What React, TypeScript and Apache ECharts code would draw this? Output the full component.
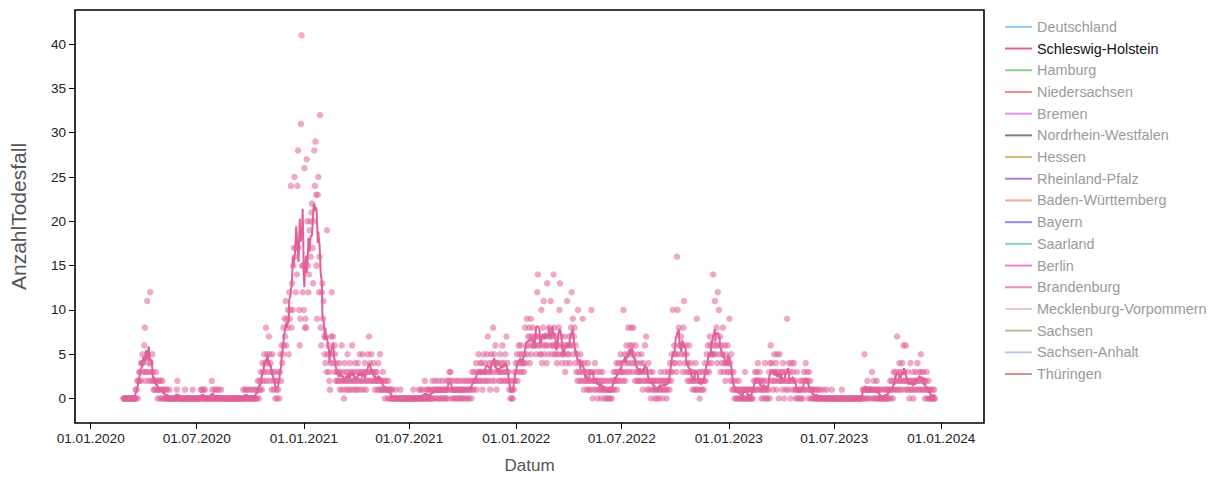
import React, { useEffect, useRef } from "react";
import * as echarts from "echarts";

// Daily reported deaths, Schleswig-Holstein, starting 2020-02-26
const startDate = "2020-02-26";

const deaths2020 = [
  0, 0, 0, 0, // Feb 26-29
  0, 0, 0, 0, 0, 0, 0, 0, 0, 0, 0, 0, 0, 0, 0, 0, 0, 1, 0, 1, 2, 0, 2, 3, 2, 3, 4, 2, 4, 5, 4, // Mar
  3, 6, 8, 3, 2, 3, 11, 5, 4, 3, 2, 12, 4, 3, 2, 5, 3, 1, 2, 1, 2, 3, 1, 2, 0, 1, 2, 1, 0, 2, // Apr
  1, 0, 2, 1, 0, 1, 0, 0, 1, 0, 1, 0, 0, 0, 1, 0, 0, 0, 0, 0, 0, 0, 0, 0, 0, 0, 0, 1, 2, 0, 0, // May
  0, 0, 0, 0, 0, 0, 0, 0, 0, 0, 1, 0, 0, 0, 0, 0, 0, 0, 0, 0, 0, 0, 0, 1, 0, 0, 0, 0, 0, 0, // Jun
  0, 0, 0, 0, 0, 0, 0, 1, 0, 1, 0, 0, 1, 0, 1, 0, 0, 0, 0, 0, 0, 0, 0, 0, 0, 0, 2, 1, 0, 0, 0, // Jul
  1, 0, 0, 1, 0, 0, 0, 1, 0, 0, 0, 1, 0, 0, 0, 0, 0, 0, 0, 0, 0, 0, 0, 0, 0, 0, 0, 0, 0, 0, 0, // Aug
  0, 0, 0, 0, 0, 0, 0, 0, 0, 0, 0, 0, 0, 0, 0, 0, 0, 0, 1, 0, 0, 1, 0, 0, 1, 0, 0, 1, 0, 0, // Sep
  0, 1, 0, 0, 0, 1, 0, 0, 1, 0, 0, 0, 1, 2, 1, 0, 2, 1, 3, 2, 1, 4, 3, 2, 5, 3, 4, 8, 2, 5, 4, // Oct
  3, 7, 5, 2, 4, 3, 1, 5, 3, 2, 1, 3, 0, 2, 1, 0, 2, 1, 3, 0, 3, 5, 2, 6, 4, 5, 8, 6, 9, 7, // Nov
  11, 6, 9, 8, 10, 5, 12, 9, 10, 24, 8, 13, 10, 15, 17, 25, 16, 12, 17, 14, 24, 28, 17, 10, 6, 9, 31, 41, 15, 12, 15, // Dec
];

const deaths2021 = [
  10, 26, 8, 9, 8, 27, 20, 15, 12, 14, 19, 20, 16, 21, 22, 17, 13, 20, 28, 24, 29, 23, 15, 9, 23, 25, 12, 16, 32, 8, 6, // Jan
  12, 13, 9, 11, 7, 5, 4, 7, 3, 19, 5, 6, 3, 2, 1, 4, 7, 12, 5, 7, 4, 3, 6, 5, 2, 4, 3, 2, // Feb
  3, 2, 4, 1, 3, 2, 6, 1, 2, 3, 0, 4, 2, 1, 3, 2, 5, 1, 2, 3, 4, 1, 2, 3, 6, 2, 1, 3, 2, 4, 1, // Mar
  2, 3, 1, 4, 2, 3, 5, 1, 2, 3, 2, 5, 1, 3, 2, 4, 3, 1, 2, 3, 5, 2, 7, 3, 4, 2, 5, 3, 2, 3, // Apr
  4, 2, 1, 3, 2, 3, 2, 1, 4, 2, 1, 5, 2, 1, 2, 1, 3, 1, 2, 0, 1, 2, 1, 1, 0, 2, 1, 0, 1, 0, 1, // May
  0, 1, 0, 0, 0, 0, 0, 1, 0, 0, 0, 0, 0, 0, 0, 1, 0, 0, 0, 0, 0, 0, 0, 0, 0, 0, 0, 0, 0, 0, // Jun
  0, 0, 0, 0, 0, 0, 0, 1, 0, 0, 0, 0, 0, 0, 0, 0, 0, 1, 0, 0, 1, 0, 0, 0, 1, 0, 0, 2, 0, 0, 1, // Jul
  0, 1, 0, 0, 1, 0, 1, 0, 0, 2, 0, 1, 1, 0, 2, 1, 0, 1, 1, 0, 2, 1, 0, 1, 0, 1, 2, 0, 1, 1, 0, // Aug
  1, 0, 2, 1, 0, 1, 2, 3, 2, 3, 1, 0, 1, 2, 0, 1, 1, 0, 2, 1, 0, 1, 2, 0, 1, 1, 0, 2, 1, 0, // Sep
  1, 0, 2, 1, 1, 0, 2, 1, 0, 1, 2, 0, 1, 1, 2, 0, 3, 1, 2, 1, 3, 2, 2, 4, 1, 3, 2, 5, 3, 2, 4, // Oct
  3, 2, 4, 1, 3, 5, 2, 3, 4, 2, 3, 5, 7, 2, 3, 4, 1, 3, 5, 2, 4, 8, 3, 5, 2, 6, 4, 1, 3, 4, // Nov
  4, 2, 3, 5, 3, 2, 4, 6, 3, 2, 4, 3, 5, 2, 7, 3, 4, 2, 3, 1, 2, 0, 1, 0, 1, 0, 2, 1, 3, 2, 4, // Dec
];

const deaths2022 = [
  3, 5, 2, 4, 6, 3, 5, 4, 6, 3, 5, 4, 4, 3, 5, 8, 4, 6, 9, 5, 7, 6, 8, 4, 7, 9, 5, 6, 8, 7, 6, // Jan
  6, 6, 7, 5, 7, 12, 14, 6, 6, 7, 5, 5, 10, 4, 6, 8, 11, 5, 7, 6, 6, 4, 13, 7, 5, 8, 6, 7, // Feb
  11, 7, 5, 6, 6, 14, 8, 5, 7, 6, 5, 4, 6, 5, 8, 10, 13, 6, 7, 5, 4, 5, 6, 5, 7, 3, 6, 4, 11, 5, 6, // Mar
  5, 7, 4, 6, 8, 12, 6, 9, 5, 7, 8, 4, 6, 3, 5, 2, 10, 3, 4, 2, 5, 3, 4, 2, 9, 3, 1, 4, 2, 3, // Apr
  2, 3, 1, 4, 2, 1, 2, 3, 1, 10, 2, 0, 3, 2, 1, 4, 2, 1, 3, 2, 0, 2, 1, 3, 1, 2, 0, 1, 3, 2, 1, // May
  1, 0, 2, 1, 0, 1, 2, 0, 1, 1, 0, 2, 1, 0, 1, 2, 3, 1, 2, 3, 2, 4, 1, 3, 2, 4, 3, 2, 5, 3, // Jun
  4, 3, 2, 10, 3, 5, 2, 4, 6, 3, 5, 8, 4, 3, 6, 5, 8, 4, 6, 3, 8, 5, 4, 2, 6, 3, 4, 2, 5, 3, 2, // Jul
  3, 4, 2, 5, 3, 1, 4, 2, 3, 6, 2, 7, 3, 1, 2, 4, 1, 2, 3, 0, 2, 1, 3, 2, 1, 2, 0, 1, 2, 1, 0, // Aug
  2, 1, 0, 2, 1, 3, 2, 1, 0, 2, 1, 2, 3, 1, 2, 0, 1, 2, 3, 2, 1, 4, 3, 2, 5, 3, 10, 4, 6, 5, // Sep
  4, 5, 3, 16, 10, 5, 8, 6, 4, 6, 7, 5, 6, 3, 8, 11, 5, 4, 6, 3, 5, 2, 4, 3, 6, 2, 3, 4, 2, 3, 1, // Oct
  2, 3, 1, 2, 4, 1, 9, 2, 1, 3, 2, 0, 1, 3, 2, 1, 2, 3, 1, 2, 4, 2, 3, 5, 3, 6, 4, 3, 7, 5, // Nov
  6, 4, 5, 5, 14, 5, 6, 11, 5, 6, 8, 4, 12, 6, 10, 5, 7, 3, 6, 4, 5, 8, 3, 4, 6, 2, 5, 4, 3, 6, 4, // Dec
];

const deaths2023 = [
  3, 9, 4, 2, 5, 3, 1, 2, 3, 1, 0, 1, 2, 0, 1, 0, 1, 2, 0, 1, 0, 0, 1, 0, 1, 0, 0, 1, 3, 0, 1, // Jan
  0, 1, 0, 0, 1, 0, 1, 0, 0, 1, 0, 1, 2, 1, 3, 2, 1, 3, 2, 4, 1, 2, 3, 1, 2, 0, 1, 2, // Feb
  1, 0, 2, 4, 1, 0, 1, 0, 2, 1, 3, 0, 4, 6, 2, 4, 3, 1, 2, 5, 3, 2, 4, 1, 5, 3, 2, 0, 5, 2, 3, // Mar
  2, 3, 1, 4, 2, 0, 3, 2, 1, 3, 9, 2, 1, 4, 2, 3, 0, 2, 4, 1, 3, 2, 4, 1, 2, 0, 1, 3, 0, 1, // Apr
  1, 0, 2, 1, 0, 1, 2, 0, 1, 3, 2, 1, 4, 2, 3, 1, 2, 0, 3, 1, 2, 0, 1, 1, 0, 1, 0, 0, 1, 0, 0, // May
  1, 0, 0, 1, 0, 0, 0, 1, 0, 0, 0, 0, 1, 0, 0, 0, 0, 1, 0, 0, 0, 0, 0, 0, 0, 0, 1, 0, 0, 0, // Jun
  0, 0, 0, 0, 0, 0, 0, 0, 0, 0, 0, 0, 0, 1, 0, 0, 0, 0, 0, 0, 0, 0, 0, 0, 0, 0, 0, 0, 0, 0, 0, // Jul
  0, 0, 0, 0, 0, 0, 0, 0, 0, 0, 0, 0, 0, 0, 0, 0, 0, 0, 1, 0, 1, 5, 0, 1, 1, 0, 2, 1, 0, 1, 1, // Aug
  1, 0, 1, 3, 1, 0, 2, 1, 0, 1, 0, 2, 1, 0, 1, 0, 1, 0, 0, 1, 0, 0, 0, 0, 1, 0, 1, 0, 0, 1, // Sep
  0, 1, 0, 1, 2, 0, 1, 2, 1, 0, 3, 1, 2, 3, 1, 2, 7, 1, 3, 2, 4, 1, 2, 3, 1, 4, 2, 6, 3, 2, 1, // Oct
  6, 2, 1, 3, 2, 1, 0, 2, 4, 1, 2, 1, 3, 0, 2, 1, 2, 3, 1, 2, 4, 2, 1, 3, 2, 1, 5, 3, 1, 2, // Nov
  3, 1, 2, 0, 2, 1, 3, 0, 1, 2, 0, 1, 0, 1, 0, 0, 1, 0, 0, 1, 0, // Dec 1-21
];

const yTicks = [0, 5, 10, 15, 20, 25, 30, 35, 40];
const xTickDates = [
  "2020-01-01", "2020-07-01", "2021-01-01", "2021-07-01", "2022-01-01",
  "2022-07-01", "2023-01-01", "2023-07-01", "2024-01-01",
];
const xDomain = ["2019-12-05", "2024-03-14T07:00:00"];
const yDomain = [-2.76, 43.85];

const legendNames = [
  "Deutschland", "Schleswig-Holstein", "Hamburg", "Niedersachsen", "Bremen",
  "Nordrhein-Westfalen", "Hessen", "Rheinland-Pfalz", "Baden-Württemberg", "Bayern",
  "Saarland", "Berlin", "Brandenburg", "Mecklenburg-Vorpommern", "Sachsen",
  "Sachsen-Anhalt", "Thüringen",
];
const legendColors = [
  "#94c9f0", "#e0609a", "#8fd18f", "#f28b8b", "#e890ea",
  "#808080", "#d9b76e", "#b27cc9", "#f5a88c", "#9b84f2",
  "#7dd3bb", "#f27fdc", "#f48bb8", "#e6c8cf", "#b6c095",
  "#b9cbe8", "#c99188",
];
const activeState = "Schleswig-Holstein";

const DAY = 86400000;
const FONT = "'Liberation Sans', Arial, Helvetica, sans-serif";

function parseUTC(s: string): number {
  return new Date(s.length === 10 ? s + "T00:00:00Z" : s + "Z").getTime();
}

function fmtDate(ts: number): string {
  const d = new Date(ts);
  const dd = String(d.getUTCDate()).padStart(2, "0");
  const mm = String(d.getUTCMonth() + 1).padStart(2, "0");
  return `${dd}.${mm}.${d.getUTCFullYear()}`;
}

export default function App() {
  const ref = useRef<HTMLDivElement>(null);

  useEffect(() => {
    if (!ref.current) return;
    const chart = echarts.init(ref.current, undefined, { renderer: "svg" });

    const values = [...deaths2020, ...deaths2021, ...deaths2022, ...deaths2023];
    const t0 = parseUTC(startDate);
    const points = values.map((v, i) => [t0 + i * DAY, v]);
    // centered 7-day mean
    const rolling = values.map((_, i) => {
      let s = 0;
      let n = 0;
      for (let k = i - 3; k <= i + 3; k++) {
        if (k >= 0 && k < values.length) {
          s += values[k];
          n++;
        }
      }
      return [t0 + i * DAY, s / n];
    });

    const xTicks = xTickDates.map(parseUTC);

    const emptySeries = legendNames
      .map((name, i) => ({ name, color: legendColors[i] }))
      .filter((s) => s.name !== activeState)
      .map((s) => ({
        name: s.name,
        type: "line" as const,
        data: [] as number[][],
        color: s.color,
        showSymbol: false,
      }));

    chart.setOption({
      animation: false,
      textStyle: { fontFamily: FONT },
      grid: {
        left: 75,
        width: 909,
        top: 10,
        height: 416.7,
        show: true,
        borderColor: "#000",
        borderWidth: 1.6,
        backgroundColor: "transparent",
      },
      legend: {
        orient: "vertical",
        left: 1000,
        top: 11,
        itemWidth: 27,
        itemHeight: 2,
        itemGap: 0,
        icon: "rect",
        selectedMode: false,
        textStyle: { fontSize: 14.4, color: "#9a9a9a", lineHeight: 21.7, fontFamily: FONT },
        data: legendNames.map((name, i) => ({
          name,
          itemStyle: { color: legendColors[i] },
          textStyle:
            name === activeState
              ? { color: "#111", fontSize: 14.4, lineHeight: 21.7, fontFamily: FONT }
              : { color: "#9a9a9a", fontSize: 14.4, lineHeight: 21.7, fontFamily: FONT },
        })),
      },
      xAxis: {
        type: "value",
        min: parseUTC(xDomain[0]),
        max: parseUTC(xDomain[1]),
        name: "Datum",
        nameLocation: "middle",
        nameGap: 34,
        nameTextStyle: { fontSize: 17, color: "#555", fontFamily: FONT },
        axisLine: { show: false, onZero: false },
        axisTick: {
          show: true,
          length: 6,
          lineStyle: { color: "#000", width: 1 },
          customValues: xTicks,
        },
        axisLabel: {
          customValues: xTicks,
          formatter: (v: number) => fmtDate(v),
          fontSize: 13.6,
          color: "#222",
          margin: 8,
          fontFamily: FONT,
        },
        splitLine: { show: false },
      },
      yAxis: {
        type: "value",
        min: yDomain[0],
        max: yDomain[1],
        name: "AnzahlTodesfall",
        nameLocation: "middle",
        nameGap: 46,
        nameTextStyle: { fontSize: 21, color: "#555", fontFamily: FONT },
        axisLine: { show: false, onZero: false },
        axisTick: {
          show: true,
          length: 6,
          lineStyle: { color: "#000", width: 1 },
          customValues: yTicks,
        },
        axisLabel: {
          customValues: yTicks,
          fontSize: 13.6,
          color: "#222",
          margin: 9,
          fontFamily: FONT,
        },
        splitLine: { show: false },
      },
      series: [
        {
          name: "Schleswig-Holstein (täglich)",
          type: "scatter",
          data: points,
          symbolSize: 6.5,
          itemStyle: { color: "#e0609a", opacity: 0.55 },
          z: 2,
        },
        {
          name: activeState,
          type: "line",
          data: rolling,
          showSymbol: false,
          color: "#e0609a",
          lineStyle: { color: "#e0609a", width: 2 },
          z: 3,
        },
        ...emptySeries,
      ],
    });

    return () => chart.dispose();
  }, []);

  return (
    <div
      ref={ref}
      style={{ position: "fixed", left: 0, top: 0, width: 1216, height: 479, background: "#fff" }}
    />
  );
}
